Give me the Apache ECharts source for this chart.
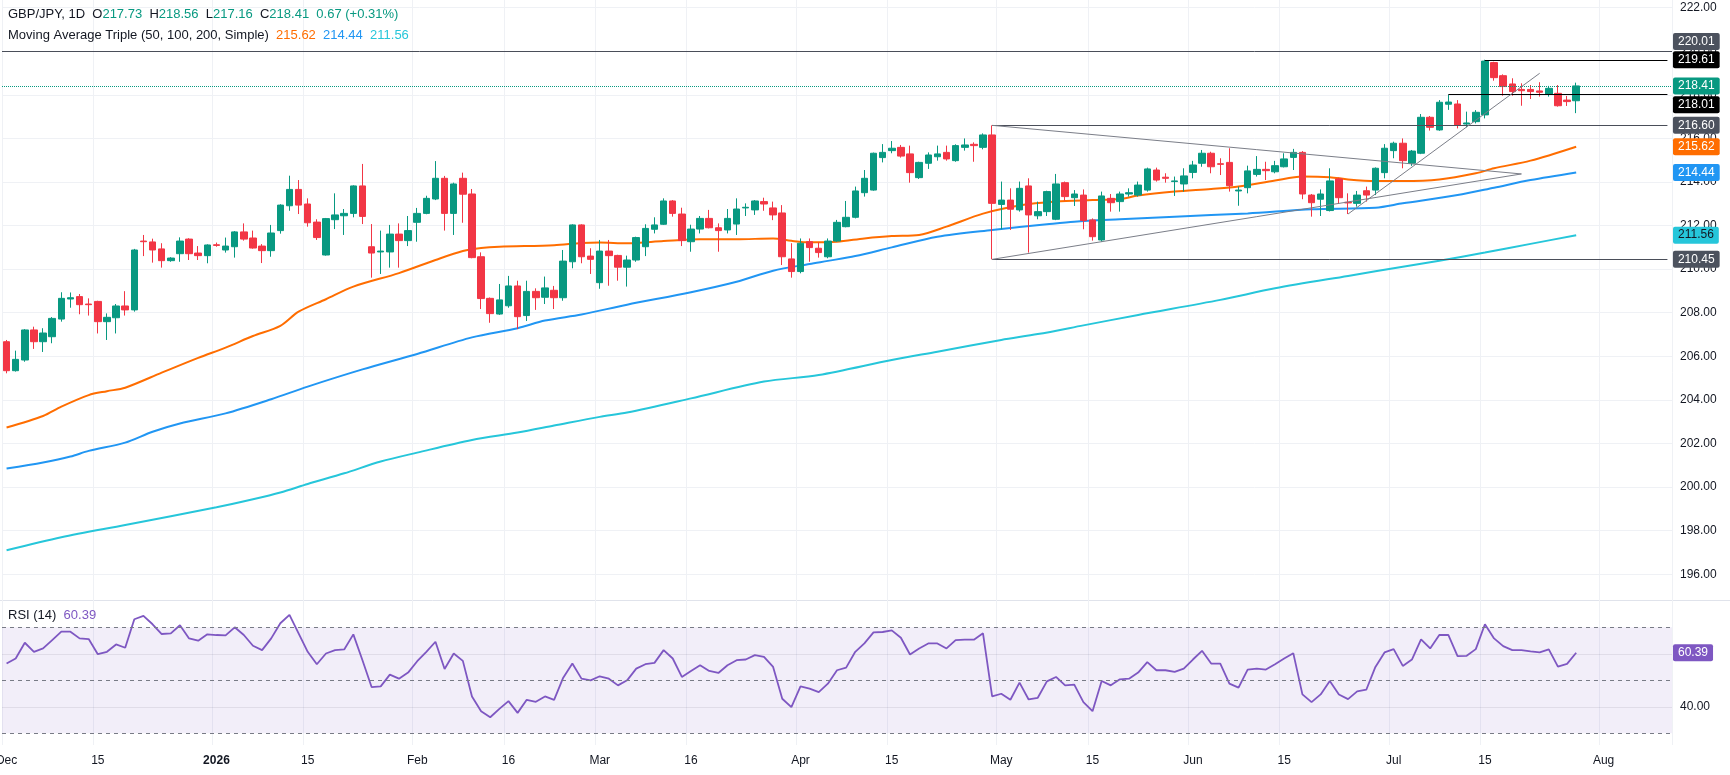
<!DOCTYPE html>
<html>
<head>
<meta charset="utf-8">
<title>GBP/JPY 1D</title>
<script src="https://cdn.jsdelivr.net/npm/echarts@6.0.0/dist/echarts.min.js"></script>
<style>
  html, body { margin: 0; padding: 0; background: #ffffff; }
  #chart { width: 1730px; height: 775px; }
</style>
</head>
<body>
<div id="chart"></div>
<script>
// daily bars, Dec 1 2025 -> Jul 29 2026 (weekdays)
var open = [206.67,205.34,205.83,207.21,206.67,206.90,207.71,208.63,208.74,208.40,208.52,207.59,207.77,208.31,208.13,211.29,211.25,210.93,210.39,210.71,211.38,210.74,210.62,211.12,210.88,211.03,211.71,211.43,211.06,210.85,211.77,212.91,213.66,212.99,212.16,210.65,212.27,212.45,212.56,213.82,211.03,210.79,210.79,211.61,211.31,212.15,212.56,213.22,214.17,212.56,214.17,213.45,210.57,208.66,207.94,208.32,209.23,207.87,208.98,208.71,209.03,208.69,210.34,212.03,210.60,209.38,210.83,210.63,210.09,210.42,211.03,211.83,212.06,213.13,212.53,211.26,211.84,212.33,211.90,211.80,212.07,212.81,212.72,213.10,212.81,212.58,210.47,209.89,211.26,210.96,210.57,211.29,211.95,212.38,213.51,213.63,215.12,215.44,215.59,215.29,214.20,214.86,215.16,215.36,214.98,215.59,215.73,215.59,216.16,212.97,213.17,212.72,213.82,212.45,212.64,212.29,213.97,213.28,213.40,212.26,211.34,213.25,213.10,213.45,213.40,213.63,214.55,214.22,214.02,213.91,214.44,214.86,215.32,214.84,214.90,213.59,213.74,214.35,214.58,214.47,214.70,215.13,215.36,213.40,213.21,212.69,214.14,213.07,213.02,213.60,213.63,214.43,215.44,215.78,214.86,215.32,216.97,216.39,217.57,217.58,216.66,216.77,217.08,219.48,218.88,218.50,218.25,218.25,218.18,218.04,218.07,217.76,217.73];
var high = [206.75,206.26,207.25,207.36,207.29,207.80,208.94,208.93,208.86,208.66,208.55,207.97,208.40,208.99,210.93,211.57,211.40,211.19,210.55,211.46,211.42,211.06,211.14,211.22,211.45,211.75,212.10,211.77,211.15,212.03,212.98,214.29,214.09,213.25,212.29,212.35,213.48,212.76,213.85,214.83,212.07,211.77,212.03,212.10,212.44,212.81,213.37,214.96,214.28,213.97,214.43,213.68,210.77,208.70,209.32,209.69,209.47,209.47,209.12,209.66,209.23,210.88,212.06,212.06,210.96,211.34,211.34,210.66,210.62,211.49,212.06,212.38,213.25,213.17,212.82,212.04,212.44,212.72,212.10,212.76,213.25,213.02,213.17,213.28,213.10,212.94,211.19,211.41,211.41,211.23,211.41,212.26,213.13,213.79,214.55,215.35,215.74,215.88,215.70,215.67,214.93,215.36,215.67,215.67,215.73,216.00,215.82,216.23,216.60,214.02,213.71,214.02,214.17,213.10,213.60,214.37,214.02,213.63,213.66,212.33,213.56,213.45,213.56,213.71,214.02,214.66,214.66,214.40,214.25,214.63,214.97,215.47,215.39,215.09,215.55,213.79,214.75,215.19,214.93,214.97,215.32,215.52,215.42,213.45,213.66,214.63,214.20,213.48,213.59,213.79,214.67,215.74,215.85,216.00,215.47,217.12,217.03,217.76,218.01,217.76,217.23,217.30,219.61,219.52,218.94,218.76,218.53,218.45,218.58,218.41,218.45,217.95,218.56];
var low = [205.22,205.30,205.75,206.34,206.20,206.60,207.59,208.23,207.93,207.87,207.05,206.75,207.05,207.87,208.05,210.60,210.30,210.07,210.34,210.34,210.42,210.42,210.27,211.03,210.76,210.53,211.31,210.94,210.28,210.57,211.63,212.68,212.53,211.95,211.34,210.62,211.84,211.57,212.38,212.07,209.61,209.78,210.07,210.07,211.06,211.26,212.52,213.17,211.77,211.57,212.13,210.50,208.17,207.54,207.90,208.23,207.25,207.62,208.13,208.40,208.17,208.55,210.04,210.27,209.78,209.10,209.24,209.47,209.20,210.34,210.60,211.64,212.03,212.41,211.06,210.80,211.64,211.87,210.80,211.64,211.57,212.44,212.49,212.68,212.25,210.19,209.61,209.81,210.34,210.53,210.50,211.25,211.92,212.33,213.33,213.60,214.90,215.32,215.12,213.97,214.14,214.60,214.98,214.98,214.93,215.44,214.93,215.50,210.45,211.83,211.80,212.64,210.76,212.29,212.44,212.25,213.14,212.90,211.83,211.31,211.26,212.64,212.64,213.33,213.33,213.56,214.02,213.97,213.36,213.56,214.17,214.70,214.40,214.32,213.56,212.91,213.48,214.25,214.09,214.40,214.67,214.55,213.21,212.41,212.44,212.65,212.99,212.53,212.87,213.10,213.40,214.17,215.09,214.63,214.74,215.28,216.36,216.35,217.31,216.46,216.51,216.69,216.92,218.65,217.96,217.96,217.50,217.81,217.92,217.92,217.46,217.49,217.16];
var close = [205.34,205.86,207.21,206.67,207.07,207.74,208.66,208.69,208.37,208.37,207.59,207.79,208.31,208.13,210.88,211.26,210.88,210.39,210.51,211.29,210.71,210.62,211.11,211.09,211.06,211.71,211.38,210.97,210.85,211.66,212.94,213.66,212.94,212.13,211.45,212.32,212.49,212.56,213.82,212.42,210.74,210.83,211.61,211.31,211.77,212.56,213.25,214.17,212.56,213.91,213.44,210.53,208.65,207.96,208.59,209.23,207.82,208.98,208.69,209.14,208.69,210.37,212.03,210.57,210.45,210.83,210.62,210.09,210.42,211.45,211.87,212.03,213.13,212.56,211.31,211.84,212.33,211.90,211.77,212.33,212.76,212.84,213.13,212.99,212.49,210.57,209.89,211.19,210.99,210.76,211.29,212.15,212.38,213.59,214.17,215.32,215.36,215.55,215.19,214.43,214.90,215.24,215.29,215.06,215.67,215.70,215.67,216.16,213.02,213.17,212.75,213.71,212.49,212.64,213.56,213.91,213.33,213.45,212.23,211.49,213.36,213.05,213.45,213.51,213.86,214.60,214.09,214.17,214.05,214.28,214.78,215.32,214.70,214.81,213.83,213.63,214.51,214.58,214.52,214.75,215.06,215.36,213.45,213.05,213.45,214.05,213.28,213.04,213.40,213.40,214.63,215.55,215.78,214.98,215.42,216.97,216.51,217.66,217.67,216.62,216.71,217.20,219.55,218.79,218.38,218.15,218.19,218.15,218.12,218.30,217.50,217.69,218.41];

// RSI(14), one value per bar
var rsi = [56.33,58.23,64.18,60.76,62.03,65.19,68.35,68.35,65.82,65.57,59.87,60.76,63.54,62.28,73.04,74.30,71.14,67.47,67.72,70.76,65.82,64.94,67.34,67.09,66.96,70.00,67.09,63.04,61.39,65.82,71.52,74.68,67.72,60.76,56.08,60.13,61.39,61.65,67.34,57.59,47.47,47.72,52.15,50.63,52.91,57.22,60.76,64.56,54.30,60.13,57.34,43.92,38.35,36.08,39.24,42.15,37.72,42.66,41.90,43.92,42.66,51.01,56.33,50.63,50.00,51.52,50.63,48.10,50.00,54.43,56.08,56.58,61.39,58.23,51.27,53.54,55.70,53.54,52.78,55.70,57.59,57.85,59.49,58.86,55.06,43.04,39.87,47.72,46.84,45.57,48.73,53.80,54.81,60.76,63.92,68.10,68.23,68.86,66.08,59.75,62.03,63.92,63.92,62.03,65.19,65.32,65.32,67.72,43.92,44.94,42.66,49.11,42.78,43.42,49.62,51.27,48.10,48.35,41.77,38.35,49.75,48.10,50.38,50.63,52.91,56.84,53.80,53.80,53.16,54.43,57.85,61.14,56.33,56.33,48.73,47.22,54.05,54.43,54.05,56.08,58.23,60.25,44.68,41.77,44.68,49.75,44.68,42.91,45.82,46.46,55.06,60.51,61.77,55.44,57.85,65.44,62.03,67.09,67.09,59.11,59.24,61.77,71.14,65.82,62.91,61.39,61.39,60.89,60.51,61.65,55.19,56.20,60.39];

// moving averages read at [bar index, value]
var ma50 = [[0,202.73],[4,203.26],[6,203.69],[9,204.22],[11,204.40],[13,204.56],[17,205.25],[21,205.93],[24,206.40],[27,206.93],[30,207.40],[32,208.05],[35,208.62],[38,209.20],[43,209.82],[47,210.42],[50,210.83],[52,210.97],[54,211.03],[60,211.10],[63,211.20],[65,211.22],[68,211.19],[72,211.29],[76,211.37],[80,211.37],[84,211.41],[86,211.30],[88,211.23],[91,211.26],[94,211.41],[97,211.52],[100,211.57],[103,211.95],[107,212.55],[111,212.92],[115,213.10],[119,213.17],[122,213.22],[124,213.38],[128,213.56],[132,213.68],[135,213.79],[139,214.07],[142,214.25],[145,214.22],[147,214.12],[150,214.05],[153,214.05],[157,214.12],[161,214.40],[163,214.63],[167,214.98],[172,215.62]];
var ma100 = [[0,200.85],[4,201.13],[7,201.40],[9,201.66],[13,202.04],[16,202.54],[19,202.92],[24,203.38],[29,204.03],[33,204.61],[39,205.40],[45,206.11],[51,206.87],[56,207.29],[59,207.64],[63,207.92],[68,208.37],[75,208.94],[80,209.42],[84,209.93],[88,210.24],[90,210.38],[93,210.60],[97,211.00],[102,211.49],[108,211.80],[114,212.06],[117,212.18],[122,212.29],[128,212.41],[136,212.56],[143,212.75],[150,212.82],[153,213.02],[159,213.40],[163,213.74],[167,214.09],[172,214.44]];
var ma200 = [[0,197.10],[6,197.70],[13,198.26],[23,199.07],[27,199.44],[30,199.75],[33,200.14],[37,200.63],[41,201.17],[45,201.58],[51,202.16],[56,202.50],[60,202.82],[65,203.22],[68,203.42],[75,204.07],[83,204.84],[89,205.14],[97,205.83],[102,206.21],[109,206.75],[113,207.02],[118,207.42],[124,207.90],[133,208.59],[139,209.12],[147,209.69],[153,210.11],[157,210.39],[162,210.76],[167,211.16],[172,211.56]];

// drawn levels and trend lines
var hLevels = [
  { from: null, price: 220.01, kind: 'gray' },
  { from: 162, price: 219.61, kind: 'black' },
  { from: 158, price: 218.01, kind: 'black' },
  { from: 108, price: 216.60, kind: 'gray' },
  { from: 108, price: 210.45, kind: 'gray' }
];
var lastPrice = 218.41;
var trendLines = [[108, 216.60, 166, 214.37], [108, 210.45, 166, 214.37], [147, 212.53, 168, 218.99]];

var tickDates = ['2025-12-01','2025-12-15','2026-01-01','2026-01-15','2026-02-02','2026-02-16','2026-03-02','2026-03-16','2026-04-01','2026-04-15','2026-05-01','2026-05-15','2026-06-01','2026-06-15','2026-07-01','2026-07-15','2026-08-03'];
var tickTexts = ['Dec','15','2026','15','Feb','16','Mar','16','Apr','15','May','15','Jun','15','Jul','15','Aug'];

// weekday categories, a few empty ones after the last bar
var dates = [];
for (var d = new Date(Date.UTC(2025, 11, 1)); dates.length < 183; d.setUTCDate(d.getUTCDate() + 1)) {
  var wd = d.getUTCDay();
  if (wd !== 0 && wd !== 6) dates.push(d.toISOString().slice(0, 10));
}

var FONT = '"Liberation Sans", Arial, sans-serif';
var TXT = '#131722';
var UP = '#089981', DOWN = '#F23645';
var C50 = '#FF6D00', C100 = '#2196F3', C200 = '#26C6DA', CRSI = '#7E57C2';
var GRID_L = 2, GRID_R = 58;
var HIDDEN = { color: 'rgba(0,0,0,0)', width: 0 };

function isTick(v) { return tickDates.indexOf(v) >= 0; }

function box(bg, fg, text, dist, dy) {
  return {
    show: true, position: 'end', formatter: text,
    distance: dist, offset: [0, dy || 0],
    backgroundColor: bg, color: fg, borderRadius: 2,
    padding: [2, 5, 2, 5], lineHeight: 13,
    fontSize: 12, fontFamily: FONT, fontWeight: 'normal'
  };
}

var candleData = open.map(function (o, i) { return [o, close[i], low[i], high[i]]; });
function maData(arr) { return arr.map(function (p) { return [dates[p[0]], p[1]]; }); }

var last = dates.length - 1;
var levelLines = hLevels.map(function (h) {
  var col = h.kind === 'black' ? '#000000' : '#4a4e59';
  var bg = h.kind === 'black' ? '#000000' : '#4c525e';
  var dy = h.price === 220.01 ? -9.5 : (h.price === 218.01 ? 10 : 0);
  if (h.from === null) {
    return { yAxis: h.price, lineStyle: { color: col, width: 1, type: 'solid' },
             label: box(bg, '#ffffff', h.price.toFixed(2), 1, dy) };
  }
  return [
    { coord: [dates[h.from], h.price], lineStyle: { color: col, width: 1, type: 'solid' },
      label: box(bg, '#ffffff', h.price.toFixed(2), 5.5, dy) },
    { coord: [dates[last], h.price] }
  ];
});
levelLines.push({ yAxis: lastPrice, lineStyle: { color: UP, width: 1, type: 'dotted' },
                  label: box(UP, '#ffffff', lastPrice.toFixed(2), 1, 0) });
trendLines.forEach(function (t) {
  levelLines.push([
    { coord: [dates[t[0]], t[1]], lineStyle: { color: '#7b7e88', width: 1, type: 'solid' }, label: { show: false } },
    { coord: [dates[t[2]], t[3]] }
  ]);
});

function maSeries(name, arr, color, fg) {
  var v = arr[arr.length - 1][1];
  return {
    name: name, type: 'line', xAxisIndex: 1, yAxisIndex: 1,
    data: maData(arr), smooth: 0.3, symbol: 'none',
    lineStyle: { color: color, width: 2 }, z: 3,
    markLine: {
      silent: true, symbol: ['none', 'none'], animation: false, z: 6,
      data: [{ yAxis: v, lineStyle: HIDDEN, label: box(color, fg, v.toFixed(2), 1, 0) }]
    }
  };
}

function rs(color) { return { color: color, fontSize: 13, fontFamily: FONT, fontWeight: 'normal' }; }
var rich = { n: rs(TXT), g: rs(UP), o: rs(C50), b: rs(C100), c: rs(C200), p: rs(CRSI) };
var titleText = { fontWeight: 'normal', fontSize: 13, color: TXT, rich: rich };

var chart = echarts.init(document.getElementById('chart'), null, { renderer: 'canvas' });
chart.setOption({
  animation: false,
  backgroundColor: '#ffffff',
  textStyle: { fontFamily: FONT },
  title: [
    { left: 8, top: 8, padding: 0, textStyle: titleText,
      text: '{n|GBP/JPY, 1D  O}{g|217.73}{n|  H}{g|218.56}{n|  L}{g|217.16}{n|  C}{g|218.41}{g|  0.67 (+0.31%)}' },
    { left: 8, top: 29, padding: 0, textStyle: titleText,
      text: '{n|Moving Average Triple (50, 100, 200, Simple)  }{o|215.62}{n|  }{b|214.44}{n|  }{c|211.56}' },
    { left: 8, top: 609, padding: 0, textStyle: titleText,
      text: '{n|RSI (14)  }{p|60.39}' }
  ],
  grid: [
    { left: GRID_L, right: GRID_R, top: 0, height: 745, outerBoundsMode: 'none' },
    { left: GRID_L, right: GRID_R, top: 7.7, height: 566.5, outerBoundsMode: 'none' },
    { left: GRID_L, right: GRID_R, top: 600.8, height: 145.8, outerBoundsMode: 'none' }
  ],
  xAxis: [
    { type: 'category', gridIndex: 0, data: dates, boundaryGap: true,
      axisLine: { show: false }, axisTick: { show: false },
      splitLine: { show: true, interval: function (i, v) { return isTick(v); },
                   lineStyle: { color: '#eff1f5', width: 1 } },
      axisLabel: {
        show: true, margin: 10, color: TXT, fontSize: 12, fontFamily: FONT,
        hideOverlap: false, showMinLabel: true, showMaxLabel: true,
        interval: function (i, v) { return isTick(v); },
        formatter: function (v) {
          var t = tickTexts[tickDates.indexOf(v)];
          return t === '2026' ? '{y|' + t + '}' : t;
        },
        rich: { y: { fontWeight: 'bold', fontSize: 12, color: TXT, fontFamily: FONT } }
      } },
    { type: 'category', gridIndex: 1, data: dates, boundaryGap: true, show: false },
    { type: 'category', gridIndex: 2, data: dates, boundaryGap: true, show: false }
  ],
  yAxis: [
    { type: 'value', gridIndex: 0, show: false, min: 0, max: 1 },
    { type: 'value', gridIndex: 1, position: 'right', min: 196, max: 222, interval: 2,
      axisLine: { show: false }, axisTick: { show: false },
      splitLine: { show: true, lineStyle: { color: '#eff1f5', width: 1 } },
      axisLabel: { margin: 8, color: TXT, fontSize: 12, fontFamily: FONT,
                   formatter: function (v) { return v.toFixed(2); } } },
    { type: 'value', gridIndex: 2, position: 'right', min: 25, max: 80, interval: 5,
      axisLine: { show: false }, axisTick: { show: false }, splitLine: { show: false },
      axisLabel: { margin: 8, color: TXT, fontSize: 12, fontFamily: FONT,
                   formatter: function (v) { return (v === 40 || v === 60) ? v.toFixed(2) : ''; } } }
  ],
  graphic: [
    { type: 'line', shape: { x1: 0, y1: 600.5, x2: 1730, y2: 600.5 },
      style: { stroke: '#e0e3eb', lineWidth: 1 }, silent: true }
  ],
  series: [
    {
      name: 'GBP/JPY', type: 'candlestick', xAxisIndex: 1, yAxisIndex: 1,
      data: candleData, barWidth: 7, z: 4,
      itemStyle: { color: UP, color0: DOWN, borderColor: UP, borderColor0: DOWN, borderWidth: 1 },
      markLine: { silent: true, symbol: ['none', 'none'], animation: false, data: levelLines }
    },
    maSeries('MA50', ma50, C50, '#ffffff'),
    maSeries('MA100', ma100, C100, '#ffffff'),
    maSeries('MA200', ma200, C200, TXT),
    {
      name: 'RSI', type: 'line', xAxisIndex: 2, yAxisIndex: 2,
      data: rsi, symbol: 'none', clip: false,
      lineStyle: { color: CRSI, width: 1.8 },
      markArea: { silent: true, itemStyle: { color: 'rgba(126,87,194,0.10)' },
                  data: [[{ yAxis: 30 }, { yAxis: 70 }]] },
      markLine: {
        silent: true, symbol: ['none', 'none'], animation: false, z: 6,
        data: [
          { yAxis: 60, lineStyle: { color: 'rgba(120,123,134,0.15)', width: 1, type: 'solid' }, label: { show: false } },
          { yAxis: 40, lineStyle: { color: 'rgba(120,123,134,0.15)', width: 1, type: 'solid' }, label: { show: false } },
          { yAxis: 70, lineStyle: { color: '#787b86', width: 1, type: [4, 4] }, label: { show: false } },
          { yAxis: 50, lineStyle: { color: '#787b86', width: 1, type: [4, 4] }, label: { show: false } },
          { yAxis: 30, lineStyle: { color: '#787b86', width: 1, type: [4, 4] }, label: { show: false } },
          { yAxis: rsi[rsi.length - 1], lineStyle: HIDDEN,
            label: box(CRSI, '#ffffff', rsi[rsi.length - 1].toFixed(2), 1, 0) }
        ]
      }
    }
  ]
});
</script>
</body>
</html>
